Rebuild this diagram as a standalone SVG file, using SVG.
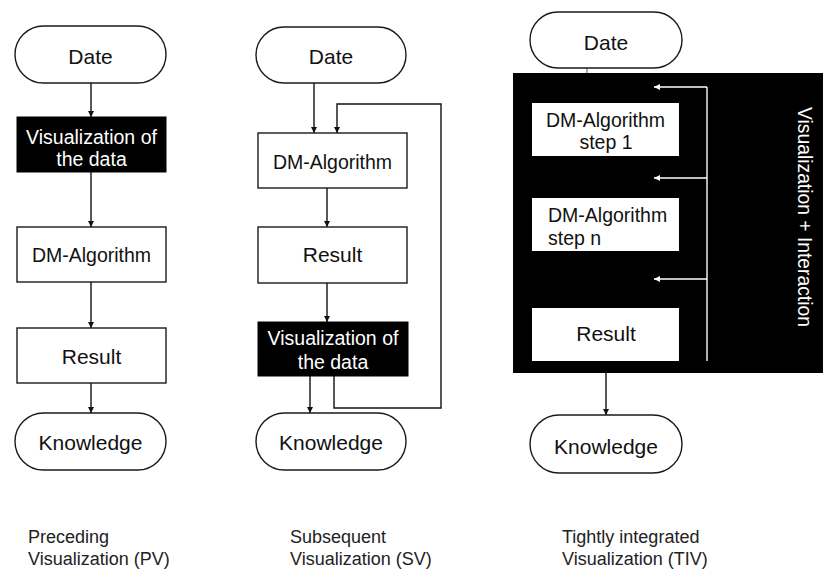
<svg xmlns="http://www.w3.org/2000/svg" width="823" height="572" viewBox="0 0 823 572">
<defs>
<style>
text{font-family:"Liberation Sans",Arial,Helvetica,sans-serif;fill:#111;}
.box{fill:#fff;stroke:#1a1a1a;stroke-width:1.4;}
.dark{fill:#000;stroke:#000;}
.lbl{font-size:21px;text-anchor:middle;}
.lbl2{font-size:19.5px;text-anchor:middle;}
.wt{fill:#fff;}
.cap{font-size:18px;fill:#222;}
.ln{fill:none;stroke:#111;stroke-width:1.4;}
.wln{fill:none;stroke:#fff;stroke-width:1.4;}
</style>
<marker id="ah" viewBox="0 0 10 10" refX="10" refY="5" markerWidth="6" markerHeight="8" markerUnits="userSpaceOnUse" orient="auto"><path d="M0,0 L10,5 L0,10 z" fill="#111"/></marker>
<marker id="wah" viewBox="0 0 10 10" refX="10" refY="5" markerWidth="10" markerHeight="6" markerUnits="userSpaceOnUse" orient="auto"><path d="M0,0 L10,5 L0,10 z" fill="#fff"/></marker>
</defs>
<rect width="823" height="572" fill="#fff"/>

<!-- Right column background panel -->
<g id="tiv-panel">
<rect x="513" y="73" width="310" height="300" fill="#000"/>
<text class="wt" font-size="19.3" text-anchor="middle" transform="translate(798,217) rotate(90)">Visualization + Interaction</text>
</g>

<g id="connectors">
<!-- left column -->
<path class="ln" d="M91,83 V117" marker-end="url(#ah)"/>
<path class="ln" d="M91,172 V227" marker-end="url(#ah)"/>
<path class="ln" d="M91,282 V328" marker-end="url(#ah)"/>
<path class="ln" d="M91,383 V413" marker-end="url(#ah)"/>
<!-- middle column -->
<path class="ln" d="M314,83 V133" marker-end="url(#ah)"/>
<path class="ln" d="M334,376 V408 H441 V104 H337 V133" marker-end="url(#ah)"/>
<path class="ln" d="M327,188 V227" marker-end="url(#ah)"/>
<path class="ln" d="M327,283 V322" marker-end="url(#ah)"/>
<path class="ln" d="M310,376 V413" marker-end="url(#ah)"/>
<!-- right column -->
<path d="M587,68 V73" stroke="#888" stroke-width="1.4"/>
<path class="wln" d="M707,361 V87"/>
<path class="wln" d="M707,87 H654" marker-end="url(#wah)"/>
<path class="wln" d="M707,178 H654" marker-end="url(#wah)"/>
<path class="wln" d="M707,279 H654" marker-end="url(#wah)"/>
<path class="ln" d="M606,373 V415" marker-end="url(#ah)"/>
</g>

<!-- Left column: PV -->
<g id="pv-date"><rect class="box" x="15" y="26" width="151" height="57" rx="28.5"/><text class="lbl" x="90.5" y="64">Date</text></g>
<g id="pv-vis"><rect class="dark" x="17" y="117" width="149" height="55"/><text class="lbl2 wt" x="91.5" y="144">Visualization of</text><text class="lbl2 wt" x="91.5" y="166">the data</text></g>
<g id="pv-dm"><rect class="box" x="17" y="227" width="149" height="55"/><text class="lbl2" x="91.5" y="262">DM-Algorithm</text></g>
<g id="pv-result"><rect class="box" x="17" y="328" width="149" height="55"/><text class="lbl" x="91.5" y="364">Result</text></g>
<g id="pv-knowledge"><rect class="box" x="15" y="413" width="151" height="57" rx="28.5"/><text class="lbl" x="90.5" y="450">Knowledge</text></g>

<!-- Middle column: SV -->
<g id="sv-date"><rect class="box" x="256" y="27" width="150" height="56" rx="28"/><text class="lbl" x="331" y="64">Date</text></g>
<g id="sv-dm"><rect class="box" x="258" y="133" width="149" height="55"/><text class="lbl2" x="332.5" y="169">DM-Algorithm</text></g>
<g id="sv-result"><rect class="box" x="258" y="227" width="149" height="56"/><text class="lbl" x="332.5" y="262">Result</text></g>
<g id="sv-vis"><rect class="dark" x="258" y="322" width="150" height="54"/><text class="lbl2 wt" x="333" y="345">Visualization of</text><text class="lbl2 wt" x="333" y="369">the data</text></g>
<g id="sv-knowledge"><rect class="box" x="256" y="413" width="150" height="57" rx="28.5"/><text class="lbl" x="331" y="450">Knowledge</text></g>

<!-- Right column: TIV -->
<g id="tiv-date"><rect class="box" x="530" y="12" width="152" height="56" rx="28"/><text class="lbl" x="606" y="50">Date</text></g>
<g id="tiv-step1"><rect x="532" y="103" width="147" height="53" fill="#fff"/><text class="lbl2" x="605.5" y="127">DM-Algorithm</text><text class="lbl2" x="606" y="149">step 1</text></g>
<g id="tiv-stepn"><rect x="532" y="198" width="147" height="53" fill="#fff"/><text font-size="19.5" x="548" y="222">DM-Algorithm</text><text font-size="19.5" x="548" y="245">step n</text></g>
<g id="tiv-result"><rect x="532" y="308" width="147" height="53" fill="#fff"/><text class="lbl" x="606" y="341">Result</text></g>
<g id="tiv-knowledge"><rect class="box" x="530" y="415" width="152" height="58" rx="29"/><text class="lbl" x="606" y="454">Knowledge</text></g>

<!-- Captions -->
<g id="captions">
<text class="cap" x="28" y="543">Preceding</text>
<text class="cap" x="28" y="565">Visualization (PV)</text>
<text class="cap" x="290" y="543">Subsequent</text>
<text class="cap" x="290" y="565">Visualization (SV)</text>
<text class="cap" x="562" y="543">Tightly integrated</text>
<text class="cap" x="562" y="565">Visualization (TIV)</text>
</g>
</svg>
